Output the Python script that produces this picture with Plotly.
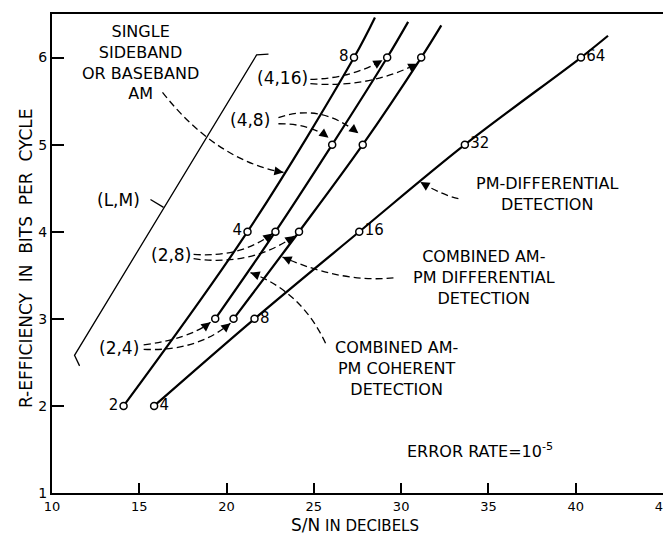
import math
import plotly.graph_objects as go

# S/N (dB) at which each scheme reaches R bits per cycle
ssb_snr = [14.1, 21.2, 27.3, 28.5]
ssb_r = [2, 4, 6, 6.46]
ssb_lbl = ["2", "4", "8"]

coh_snr = [19.35, 22.8, 26.05, 29.2, 30.4]
coh_r = [3, 4, 5, 6, 6.41]

diff_snr = [20.4, 24.15, 27.8, 31.15, 32.3]
diff_r = [3, 4, 5, 6, 6.37]

pm_snr = [15.85, 21.6, 27.6, 33.65, 40.3, 41.85]
pm_r = [2, 3, 4, 5, 6, 6.25]
pm_lbl = ["4", "8", "16", "32", "64"]

FONT = "DejaVu Sans"
XPX = 611 / 35.0   # px per dB
YPX = 479 / 5.5    # px per bit/cycle

fig = go.Figure()


def curve(xs, ys, npts, labels, pos):
    fig.add_trace(go.Scatter(x=xs, y=ys, mode="lines", line=dict(color="black", width=2.2),
                             line_shape="spline", hoverinfo="skip"))
    fig.add_trace(go.Scatter(x=xs[:npts], y=ys[:npts], mode="markers+text" if labels else "markers",
                             text=labels, textposition=pos,
                             textfont=dict(family=FONT, size=15, color="black"),
                             marker=dict(symbol="circle", size=7, color="white",
                                         line=dict(color="black", width=1.5)),
                             hoverinfo="skip"))


curve(ssb_snr, ssb_r, 3, ssb_lbl, "middle left")
curve(coh_snr, coh_r, 4, None, None)
curve(diff_snr, diff_r, 4, None, None)
curve(pm_snr, pm_r, 5, pm_lbl, "middle right")

shapes = []
annots = []

# (L,M) bracket
shapes.append(dict(type="path", xref="x", yref="y",
                   path="M 11.58,2.46 L 11.29,2.58 L 21.72,6.03 L 22.4,6.04",
                   line=dict(color="black", width=1.3)))
shapes.append(dict(type="line", xref="x", yref="y", x0=15.64, y0=4.37, x1=16.39, y1=4.28,
                   line=dict(color="black", width=1.3)))

leaders = [
    ((16.33, 5.60), (19.6, 4.98), (23.26, 4.68)),
    ((24.8, 5.75), (27.0, 5.81), (28.93, 5.97)),
    ((24.8, 5.70), (28.0, 5.73), (30.93, 5.93)),
    ((22.97, 5.31), (25.3, 5.35), (27.55, 5.13)),
    ((22.97, 5.24), (24.6, 5.20), (25.84, 5.08)),
    ((18.11, 3.74), (20.6, 3.78), (22.63, 3.98)),
    ((18.11, 3.69), (21.2, 3.71), (23.89, 3.95)),
    ((15.25, 2.70), (17.5, 2.80), (19.08, 2.96)),
    ((15.25, 2.65), (18.0, 2.71), (20.22, 2.95)),
    ((33.28, 4.38), (32.25, 4.45), (31.1, 4.57)),
    ((29.56, 3.47), (26.5, 3.50), (23.2, 3.71)),
    ((25.67, 2.72), (23.9, 3.22), (21.37, 3.53)),
]
for s, m, e in leaders:
    cx = 2 * m[0] - (s[0] + e[0]) / 2
    cy = 2 * m[1] - (s[1] + e[1]) / 2
    shapes.append(dict(type="path", xref="x", yref="y",
                       path=f"M {s[0]},{s[1]} Q {cx},{cy} {e[0]},{e[1]}",
                       line=dict(color="black", width=1.3, dash="7px,4px")))
    dx = (cx - e[0]) * XPX
    dy = -(cy - e[1]) * YPX
    n = math.hypot(dx, dy)
    annots.append(dict(x=e[0], y=e[1], xref="x", yref="y", text="", showarrow=True,
                       ax=dx / n * 9, ay=dy / n * 9, arrowhead=2, arrowsize=1.4,
                       arrowwidth=1.3, arrowcolor="black", standoff=0))

labels = [
    (15.07, 5.94, "SINGLE<br>SIDEBAND<br>OR BASEBAND<br>AM"),
    (23.2, 5.77, "(4,16)"),
    (21.37, 5.28, "(4,8)"),
    (16.79, 3.73, "(2,8)"),
    (13.81, 2.66, "(2,4)"),
    (13.81, 4.36, "(L,M)"),
    (38.38, 4.43, "PM-DIFFERENTIAL<br>DETECTION"),
    (34.77, 3.47, "COMBINED AM-<br>PM DIFFERENTIAL<br>DETECTION"),
    (29.73, 2.43, "COMBINED AM-<br>PM COHERENT<br>DETECTION"),
    (34.54, 1.49, "ERROR RATE=10<sup>-5</sup>"),
]
for x, y, t in labels:
    size = 17 if t.startswith("(") else 16
    annots.append(dict(x=x, y=y, xref="x", yref="y", text=t, showarrow=False,
                       font=dict(family=FONT, size=size, color="black"), align="center"))

annots.append(dict(x=0.496, y=-0.066, xref="paper", yref="paper", yanchor="middle",
                   text='<span style="font-size:17px">S/N</span> IN DECIBELS', showarrow=False,
                   font=dict(family=FONT, size=15, color="black")))
annots.append(dict(x=-0.061, y=0.49, xref="paper", yref="paper", textangle=-90,
                   text="R-EFFICIENCY\u00a0 IN\u00a0 BITS\u00a0 PER\u00a0 CYCLE", showarrow=False,
                   font=dict(family=FONT, size=17, color="black")))

axis = dict(showgrid=False, zeroline=False, showline=True, mirror=True, linecolor="black",
            linewidth=2, ticks="inside", tickcolor="black", tickwidth=2, automargin=False,
            ticklabeloverflow="allow", tickfont=dict(family=FONT, size=14, color="black"))

# the page body adds an 8px offset, so the figure is 8px smaller than the window
fig.update_layout(
    width=663, height=527, margin=dict(l=44, r=8, t=6, b=42),
    paper_bgcolor="white", plot_bgcolor="white", showlegend=False,
    xaxis=dict(axis, range=[10, 45], tickvals=[10, 15, 20, 25, 30, 35, 40, 45], ticklen=10,
               tickfont=dict(family=FONT, size=13, color="black")),
    yaxis=dict(axis, range=[1, 6.5], tickvals=[1, 2, 3, 4, 5, 6], ticklen=12),
    shapes=shapes, annotations=annots,
)

fig.write_html("out.html")
